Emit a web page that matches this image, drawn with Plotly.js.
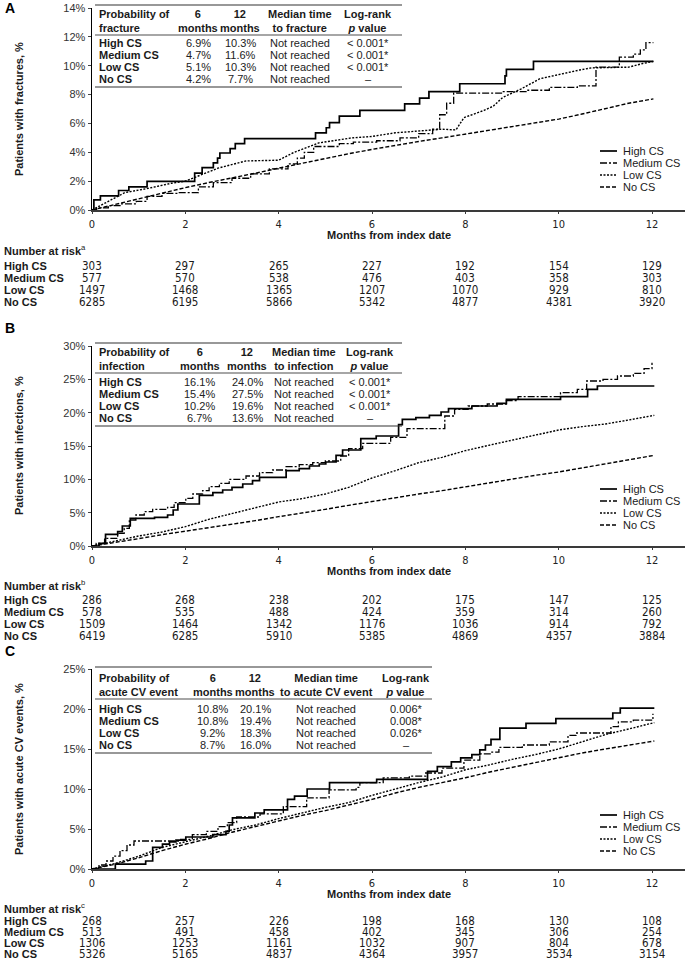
<!DOCTYPE html>
<html><head><meta charset="utf-8">
<script src="https://cdn.plot.ly/plotly-3.0.1.min.js"></script>
<style>html,body{margin:0;padding:0;background:#fff}#chart{width:685px;height:962px}</style>
</head><body><div id="chart"></div>
<script>
// ---------------- DATA ----------------
const groups = ['High CS', 'Medium CS', 'Low CS', 'No CS'];
const monthTicks = [0, 2, 4, 6, 8, 10, 12];

// Panel A: fractures (%)
const A_high_x = [0, 0.04, 0.18, 0.57, 0.79, 1.18, 2.2, 2.36, 2.6, 2.69, 2.74, 2.96, 3.07, 3.27, 4.79, 5.02, 5.09, 5.3, 5.74, 6.7, 7.02, 7.22, 7.88, 8.85, 8.88, 9.46, 12.03];
const A_high_y = [0, 0.7, 0.98, 1.35, 1.6, 1.98, 2.56, 2.93, 3.26, 3.6, 3.95, 4.25, 4.6, 4.95, 5.35, 5.7, 6.05, 6.5, 6.9, 7.35, 7.75, 8.2, 8.75, 9.3, 9.75, 10.3, 10.3];
const A_med_x = [0, 0.1, 0.35, 0.6, 0.95, 1.18, 1.5, 1.85, 2.28, 2.6, 3.0, 3.4, 3.8, 4.2, 4.4, 4.55, 4.75, 5.3, 5.6, 6.1, 6.6, 7.0, 7.3, 7.45, 7.6, 7.75, 8.4, 8.8, 9.3, 9.8, 10.4, 10.8, 11.3, 11.6, 11.75, 11.87, 12.03];
const A_med_y = [0, 0.15, 0.3, 0.42, 0.6, 0.95, 1.15, 1.2, 1.6, 1.9, 2.2, 2.5, 2.85, 3.2, 3.6, 4.0, 4.4, 4.6, 4.7, 4.8, 5.0, 5.3, 5.6, 6.6, 7.4, 8.1, 8.1, 8.2, 8.3, 8.5, 8.6, 9.9, 10.6, 10.8, 11.1, 11.6, 11.6];
const A_low_x = [0, 0.3, 0.7, 1.2, 1.7, 2.0, 2.36, 2.7, 3.3, 4.0, 4.3, 4.86, 5.57, 6.0, 6.5, 7.0, 7.5, 7.8, 7.97, 8.4, 8.6, 8.8, 9.2, 9.6, 10.0, 10.45, 10.7, 11.1, 11.5, 11.8, 12.03];
const A_low_y = [0, 0.5, 1.2, 1.5, 1.85, 2.0, 2.45, 2.9, 3.4, 3.45, 3.95, 4.65, 5.0, 5.1, 5.35, 5.5, 5.6, 5.55, 6.4, 6.9, 7.2, 7.8, 8.4, 9.1, 9.4, 9.7, 9.85, 9.9, 9.9, 10.15, 10.3];
const A_no_x = [0, 0.5, 1.0, 1.5, 2.0, 2.5, 3.0, 3.5, 4.0, 4.5, 5.0, 5.5, 6.0, 6.5, 7.0, 7.5, 8.0, 8.5, 9.0, 9.5, 10.0, 10.5, 11.0, 11.5, 12.03];
const A_no_y = [0, 0.4, 0.8, 1.2, 1.55, 1.9, 2.2, 2.55, 2.9, 3.25, 3.6, 3.9, 4.2, 4.5, 4.75, 5.0, 5.25, 5.5, 5.8, 6.0, 6.3, 6.65, 7.05, 7.4, 7.7];

// Panel B: infections (%)
const B_high_x = [0, 0.15, 0.29, 0.55, 0.65, 0.82, 1.34, 1.62, 1.74, 1.84, 2.3, 2.59, 2.8, 3.0, 3.23, 3.44, 3.59, 4.16, 4.44, 4.66, 4.87, 5.01, 5.23, 5.37, 5.76, 6.09, 6.57, 6.65, 6.94, 7.23, 7.48, 7.64, 8.14, 8.68, 8.88, 10.04, 10.62, 10.83, 12.05];
const B_high_y = [0, 0.4, 1.75, 2.15, 3.0, 4.15, 4.3, 4.65, 5.4, 6.3, 7.6, 8.0, 8.4, 8.8, 9.3, 9.8, 10.3, 11.3, 11.6, 12.0, 12.3, 12.6, 13.6, 14.4, 16.1, 16.5, 18.2, 19.0, 19.25, 19.6, 20.1, 20.6, 21.0, 21.4, 22.0, 22.4, 23.5, 24.0, 24.0];
const B_med_x = [0, 0.09, 0.27, 0.55, 0.69, 0.8, 0.94, 1.12, 1.3, 1.62, 1.76, 2.01, 2.16, 2.37, 2.51, 2.73, 2.94, 3.3, 3.59, 3.87, 4.16, 4.44, 4.73, 5.0, 5.33, 5.5, 5.8, 6.4, 6.75, 7.56, 7.77, 8.06, 8.47, 8.88, 9.13, 10.04, 10.4, 10.6, 10.95, 11.26, 11.6, 11.83, 12.0];
const B_med_y = [0, 0.4, 1.15, 1.9, 2.65, 3.9, 4.65, 5.15, 5.5, 5.8, 6.5, 7.15, 7.8, 8.3, 8.9, 9.4, 10.0, 10.5, 11.0, 11.4, 11.9, 12.2, 12.5, 12.75, 13.5, 14.6, 15.4, 16.3, 17.6, 19.5, 20.5, 21.0, 21.3, 21.8, 22.4, 23.0, 23.5, 24.75, 25.0, 25.5, 25.9, 26.6, 27.5];
const B_low_x = [0, 0.5, 1, 1.5, 2, 2.5, 3, 3.5, 4, 4.5, 5, 5.5, 6, 6.5, 7, 7.5, 8, 8.5, 9, 9.5, 10, 10.5, 11, 11.5, 12.05];
const B_low_y = [0, 0.8, 1.5, 2.1, 2.9, 4.0, 4.9, 5.7, 6.6, 7.1, 7.8, 8.8, 10.2, 11.3, 12.5, 13.3, 14.3, 15.1, 15.9, 16.7, 17.4, 17.9, 18.3, 18.9, 19.6];
const B_no_x = [0, 0.5, 1, 1.5, 2, 2.5, 3, 3.5, 4, 4.5, 5, 5.5, 6, 6.5, 7, 7.5, 8, 8.5, 9, 9.5, 10, 10.5, 11, 11.5, 12.05];
const B_no_y = [0, 0.5, 1.1, 1.7, 2.2, 2.7, 3.3, 3.8, 4.4, 4.9, 5.5, 6.1, 6.7, 7.2, 7.8, 8.3, 8.9, 9.4, 10.0, 10.6, 11.1, 11.7, 12.3, 12.9, 13.6];

// Panel C: acute CV events (%)
const C_high_x = [0, 0.5, 1.15, 1.3, 1.51, 1.66, 1.8, 2.01, 2.59, 2.87, 2.94, 3.01, 3.49, 3.69, 4.19, 4.34, 4.61, 5.09, 6.1, 7.19, 7.4, 7.7, 7.9, 8.14, 8.31, 8.43, 8.55, 8.74, 9.3, 9.94, 11.16, 11.32, 12.05];
const C_high_y = [0, 0.6, 1.0, 2.7, 3.1, 3.4, 3.6, 4.0, 4.3, 4.7, 5.5, 6.4, 7.0, 7.4, 8.7, 9.1, 10.0, 10.8, 11.2, 12.2, 12.8, 13.4, 13.9, 14.3, 14.9, 15.5, 16.2, 17.6, 18.2, 18.8, 19.5, 20.1, 20.1];
const C_med_x = [0, 0.15, 0.3, 0.45, 0.6, 0.75, 0.9, 1.9, 2.15, 2.45, 2.7, 2.9, 3.1, 3.6, 4.1, 4.6, 5.08, 5.66, 5.74, 6.24, 6.8, 7.15, 7.5, 7.97, 8.31, 8.55, 8.72, 9.22, 9.8, 10.2, 10.37, 11.12, 11.28, 11.6, 12.02];
const C_med_y = [0, 0.5, 1.0, 1.6, 2.3, 3.0, 3.5, 3.7, 4.3, 4.7, 5.3, 5.8, 6.5, 6.9, 7.8, 8.9, 9.9, 10.2, 10.8, 11.4, 11.6, 12.0, 12.6, 13.6, 14.4, 14.6, 15.2, 15.5, 15.9, 16.7, 17.0, 17.8, 18.4, 18.6, 19.4];
const C_low_x = [0, 0.5, 1, 1.5, 2, 2.5, 3, 3.5, 4, 4.5, 5, 5.5, 6, 6.5, 7, 7.5, 8, 8.5, 9, 9.5, 10, 10.5, 11, 11.5, 12.05];
const C_low_y = [0, 0.7, 1.6, 2.7, 3.4, 4.1, 4.9, 5.5, 6.3, 7.0, 7.7, 8.3, 9.2, 10.0, 10.8, 11.5, 12.4, 13.0, 13.7, 14.3, 15.0, 15.9, 16.8, 17.5, 18.3];
const C_no_x = [0, 0.5, 1, 1.5, 2, 2.5, 3, 3.5, 4, 4.5, 5, 5.5, 6, 6.5, 7, 7.5, 8, 8.5, 9, 9.5, 10, 10.5, 11, 11.5, 12.05];
const C_no_y = [0, 0.6, 1.4, 2.3, 3.1, 3.8, 4.6, 5.3, 6.0, 6.7, 7.3, 8.0, 8.7, 9.5, 10.2, 10.8, 11.4, 12.1, 12.7, 13.3, 13.9, 14.5, 15.0, 15.5, 16.0];

// Number at risk
const A_risk = [[303, 297, 265, 227, 192, 154, 129], [577, 570, 538, 476, 403, 358, 303], [1497, 1468, 1365, 1207, 1070, 929, 810], [6285, 6195, 5866, 5342, 4877, 4381, 3920]];
const B_risk = [[286, 268, 238, 202, 175, 147, 125], [578, 535, 488, 424, 359, 314, 260], [1509, 1464, 1342, 1176, 1036, 914, 792], [6419, 6285, 5910, 5385, 4869, 4357, 3884]];
const C_risk = [[268, 257, 226, 198, 168, 130, 108], [513, 491, 458, 402, 345, 306, 254], [1306, 1253, 1161, 1032, 907, 804, 678], [5326, 5165, 4837, 4364, 3957, 3534, 3154]];

// Inset tables
const A_tab_head = ['Probability of<br>fracture', '6<br>months', '12<br>months', 'Median time<br>to fracture', 'Log-rank<br><i>p</i> value'];
const A_tab_6m = ['6.9%', '4.7%', '5.1%', '4.2%'];
const A_tab_12m = ['10.3%', '11.6%', '10.3%', '7.7%'];
const A_tab_med = ['Not reached', 'Not reached', 'Not reached', 'Not reached'];
const A_tab_p = ['< 0.001*', '< 0.001*', '< 0.001*', '–'];
const B_tab_head = ['Probability of<br>infection', '6<br>months', '12<br>months', 'Median time<br>to infection', 'Log-rank<br><i>p</i> value'];
const B_tab_6m = ['16.1%', '15.4%', '10.2%', '6.7%'];
const B_tab_12m = ['24.0%', '27.5%', '19.6%', '13.6%'];
const B_tab_med = ['Not reached', 'Not reached', 'Not reached', 'Not reached'];
const B_tab_p = ['< 0.001*', '< 0.001*', '< 0.001*', '–'];
const C_tab_head = ['Probability of<br>acute CV event', '6<br>months', '12<br>months', 'Median time<br>to acute CV event', 'Log-rank<br><i>p</i> value'];
const C_tab_6m = ['10.8%', '10.8%', '9.2%', '8.7%'];
const C_tab_12m = ['20.1%', '19.4%', '18.3%', '16.0%'];
const C_tab_med = ['Not reached', 'Not reached', 'Not reached', 'Not reached'];
const C_tab_p = ['0.006*', '0.008*', '0.026*', '–'];

// ---------------- LAYOUT HELPERS ----------------
const W = 685, H = 962;
const px = v => v / W;
const py = v => 1 - v / H;
const FONT = 'Liberation Sans, Arial, sans-serif';
const NARROW = 'Liberation Sans Narrow, Arial Narrow, DejaVu Sans Condensed, Liberation Sans, sans-serif';
const INK = '#1a1a1a';

const styles = [
  {dash: 'solid', width: 1.7, shape: 'hv'},
  {dash: '7px,2px,2px,2px', width: 1.3, shape: 'hv'},
  {dash: '2px,1.5px', width: 1.4, shape: 'linear'},
  {dash: '4px,2px', width: 1.4, shape: 'linear'}
];

const panels = [
  {letter: 'A', ax: '', series: [[A_high_x, A_high_y], [A_med_x, A_med_y], [A_low_x, A_low_y], [A_no_x, A_no_y]],
   ymax: 14, ystep: 2, top: 8, bottom: 210, ytitle: 'Patients with fractures, %',
   risk: A_risk, riskSup: 'a', narY: 250, rowY: [266, 278, 290, 302],
   legY: [151, 163, 175, 187],
   tab: {head: A_tab_head, c6: A_tab_6m, c12: A_tab_12m, med: A_tab_med, p: A_tab_p,
         left: 97, cols: [198, 240, 300, 368], right: 402, top: 5, h: 21, mid: 35, rows: [43, 55, 67, 79], bot: 87}},
  {letter: 'B', ax: '2', series: [[B_high_x, B_high_y], [B_med_x, B_med_y], [B_low_x, B_low_y], [B_no_x, B_no_y]],
   ymax: 30, ystep: 5, top: 346, bottom: 546, ytitle: 'Patients with infections, %',
   risk: B_risk, riskSup: 'b', narY: 585, rowY: [600, 612, 624, 636],
   legY: [489, 501, 513, 525],
   tab: {head: B_tab_head, c6: B_tab_6m, c12: B_tab_12m, med: B_tab_med, p: B_tab_p,
         left: 97, cols: [200, 247, 304, 370], right: 402, top: 343, h: 359, mid: 373, rows: [382, 394, 406, 418], bot: 426}},
  {letter: 'C', ax: '3', series: [[C_high_x, C_high_y], [C_med_x, C_med_y], [C_low_x, C_low_y], [C_no_x, C_no_y]],
   ymax: 25, ystep: 5, top: 669, bottom: 869, ytitle: 'Patients with acute CV events, %',
   risk: C_risk, riskSup: 'c', narY: 908, rowY: [921, 932, 943, 954],
   legY: [815, 827, 839, 851],
   tab: {head: C_tab_head, c6: C_tab_6m, c12: C_tab_12m, med: C_tab_med, p: C_tab_p,
         left: 97, cols: [213, 255, 326, 406], right: 432, top: 667, h: 685, mid: 699, rows: [709, 721, 733, 745], bot: 753}}
];

const X0 = 92, X12 = 652, XR = 685;
const xmax = 12 * (XR - X0) / (X12 - X0);

const data = [];
const layout = {
  width: W, height: H, margin: {l: 0, r: 0, t: 0, b: 0},
  paper_bgcolor: '#fff', plot_bgcolor: '#fff', showlegend: false,
  font: {family: FONT, size: 11, color: INK},
  annotations: [], shapes: []
};

const ann = (o) => layout.annotations.push(Object.assign({showarrow: false, font: {family: FONT, size: 11, color: INK}}, o));

panels.forEach(p => {
  const xa = 'x' + p.ax, ya = 'y' + p.ax;
  p.series.forEach((s, i) => {
    data.push({type: 'scatter', mode: 'lines', x: s[0], y: s[1], xaxis: xa, yaxis: ya, name: groups[i],
      line: {color: '#000', width: styles[i].width, dash: styles[i].dash, shape: styles[i].shape}, hoverinfo: 'skip'});
  });
  const yt = [];
  for (let v = 0; v <= p.ymax; v += p.ystep) yt.push(v);
  layout['xaxis' + p.ax] = {domain: [px(X0), 1], range: [0, xmax], anchor: ya, tickmode: 'array', tickvals: monthTicks,
    ticktext: monthTicks.map(String),
    showline: true, linecolor: '#3a3a3a', linewidth: 2.4, ticks: 'outside', ticklen: 2, tickcolor: '#3a3a3a',
    tickfont: {family: NARROW, size: 11, color: '#222'}, showgrid: false, zeroline: false, fixedrange: true};
  layout['yaxis' + p.ax] = {domain: [py(p.bottom), py(p.top)], range: [0, p.ymax], anchor: xa, tickmode: 'array', tickvals: yt,
    ticktext: yt.map(v => v + '%'), showline: true, linecolor: '#000', linewidth: 1.4, ticks: 'outside', ticklen: 3,
    tickfont: {family: FONT, size: 11, color: '#333'}, showgrid: false, zeroline: false, fixedrange: true};

  // panel letter
  ann({xref: 'paper', yref: 'paper', x: px(3), y: py(p.letter === 'A' ? 8 : p.top - 18), xanchor: 'left', yanchor: 'middle',
       text: '<b>' + p.letter + '</b>', font: {family: FONT, size: 14, color: '#000'}});
  // y title
  ann({xref: 'paper', yref: 'paper', x: px(19), y: py((p.top + p.bottom) / 2), xanchor: 'center', yanchor: 'middle',
       textangle: -90, text: '<b>' + p.ytitle + '</b>', font: {family: FONT, size: 11, color: INK}});
  // x title
  ann({xref: 'paper', yref: 'paper', x: px((X0 + XR) / 2), y: py(p.bottom + 25), xanchor: 'center', yanchor: 'middle',
       text: '<b>Months from index date</b>', font: {family: FONT, size: 11, color: INK}});
  // number at risk
  ann({xref: 'paper', yref: 'paper', x: px(2), y: py(p.narY), xanchor: 'left', yanchor: 'middle',
       text: '<b>Number at risk</b><sup>' + p.riskSup + '</sup>', font: {family: FONT, size: 11, color: INK}});
  p.risk.forEach((row, i) => {
    ann({xref: 'paper', yref: 'paper', x: px(2), y: py(p.rowY[i]), xanchor: 'left', yanchor: 'middle',
         text: '<b>' + groups[i] + '</b>', font: {family: FONT, size: 11, color: INK}});
    row.forEach((v, j) => {
      ann({xref: xa, yref: 'paper', x: monthTicks[j], y: py(p.rowY[i]), xanchor: 'center', yanchor: 'middle',
           text: String(v), font: {family: NARROW, size: 11.5, color: INK}});
    });
  });
  // legend (custom, compact)
  groups.forEach((g, i) => {
    layout.shapes.push({type: 'line', xref: 'paper', yref: 'paper', x0: px(600), x1: px(617), y0: py(p.legY[i]), y1: py(p.legY[i]),
      line: {color: '#000', width: styles[i].width, dash: styles[i].dash}});
    ann({xref: 'paper', yref: 'paper', x: px(621), y: py(p.legY[i]), xanchor: 'left', yanchor: 'middle',
         text: g, font: {family: FONT, size: 11, color: INK}});
  });
  // inset table
  const t = p.tab;
  [[t.top, '#333', 1.2], [t.mid, '#888', 1.6], [t.bot, '#333', 1.2]].forEach(r => {
    layout.shapes.push({type: 'line', xref: 'paper', yref: 'paper', x0: px(t.left - 2), x1: px(t.right), y0: py(r[0]), y1: py(r[0]),
      line: {color: r[1], width: r[2]}});
  });
  t.head.forEach((h, k) => {
    ann({xref: 'paper', yref: 'paper', x: k === 0 ? px(t.left) : px(t.cols[k - 1]), y: py(t.h), xanchor: k === 0 ? 'left' : 'center',
         yanchor: 'middle', align: k === 0 ? 'left' : 'center', text: '<b>' + h + '</b>', font: {family: FONT, size: 11, color: INK}});
  });
  groups.forEach((g, i) => {
    const y = py(t.rows[i]);
    ann({xref: 'paper', yref: 'paper', x: px(t.left), y: y, xanchor: 'left', yanchor: 'middle', text: '<b>' + g + '</b>'});
    [t.c6[i], t.c12[i], t.med[i], t.p[i]].forEach((v, k) => {
      ann({xref: 'paper', yref: 'paper', x: px(t.cols[k]), y: y, xanchor: 'center', yanchor: 'middle', text: v,
           font: {family: FONT, size: 11, color: '#222'}});
    });
  });
});

Plotly.newPlot('chart', data, layout, {displayModeBar: false, staticPlot: true});
</script>
</body></html>
